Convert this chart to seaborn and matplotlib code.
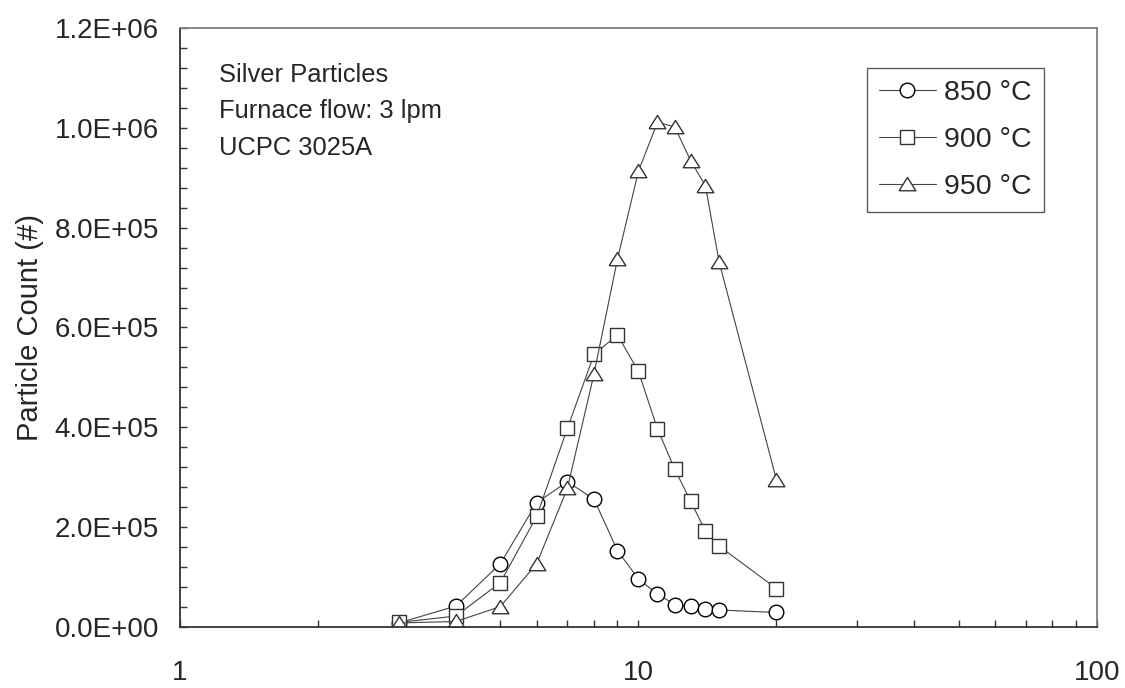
import numpy as np
import pandas as pd
import matplotlib
matplotlib.use("Agg")
import matplotlib.pyplot as plt
from matplotlib.ticker import FixedLocator, MultipleLocator, FuncFormatter, NullFormatter
import seaborn as sns

# Particle size (nm) and counts per furnace temperature
size_nm = [3, 4, 5, 6, 7, 8, 9, 10, 11, 12, 13, 14, 15, 20]
count_850 = [8e3, 42e3, 127e3, 249e3, 291e3, 256e3, 153e3, 96e3, 66e3, 45e3, 42e3, 37e3, 34e3, 29e3]
count_900 = [9e3, 22e3, 89e3, 222e3, 398e3, 546e3, 585e3, 512e3, 397e3, 316e3, 252e3, 192e3, 162e3, 77e3]
count_950 = [8e3, 11e3, 41e3, 127e3, 278e3, 507e3, 737e3, 913e3, 1011e3, 1002e3, 934e3, 884e3, 731e3, 295e3]

labels = ["850 °C", "900 °C", "950 °C"]
series = [count_850, count_900, count_950]

sns.set_style("ticks")
plt.rcParams["font.family"] = ["Liberation Sans", "DejaVu Sans"]

# wide, squat triangle like the original
tri = [(-1, -0.75), (1, -0.75), (0, 0.85), (-1, -0.75)]
markers = ["o", "s", tri]
sizes = [10.5, 9.5, 12]
edges = ["black", "#333333", "#333333"]

fig = plt.figure(figsize=(11.25, 6.88), dpi=100)
ax = fig.add_axes([0.16, 0.0887, 0.815, 0.8706])

for lab, vals, mk, ms, ec in zip(labels, series, markers, sizes, edges):
    df = pd.DataFrame({"size": size_nm, "count": vals})
    sns.lineplot(data=df, x="size", y="count", ax=ax, label=lab,
                 color="#444444", linewidth=0.8, marker=mk, markersize=ms,
                 markerfacecolor="white", markeredgecolor=ec, markeredgewidth=1.0)

ax.set_xscale("log")
ax.set_xlim(1, 100)
ax.set_ylim(0, 1.2e6)

ax.xaxis.set_major_locator(FixedLocator([1, 10, 100]))
ax.xaxis.set_major_formatter(FuncFormatter(lambda v, p: f"{v:g}"))
ax.xaxis.set_minor_locator(FixedLocator([2, 3, 4, 5, 6, 7, 8, 9, 20, 30, 40, 50, 60, 70, 80, 90]))
ax.xaxis.set_minor_formatter(NullFormatter())
ax.yaxis.set_major_locator(MultipleLocator(2e5))
ax.yaxis.set_minor_locator(MultipleLocator(4e4))
ax.yaxis.set_major_formatter(FuncFormatter(lambda v, p: f"{v:.1E}"))

ax.tick_params(axis="both", which="both", direction="in", length=5, width=1, color="#333333")
ax.tick_params(axis="y", which="major", labelsize=20, pad=15)
ax.tick_params(axis="x", which="major", labelsize=20, pad=24)

ax.set_xlabel("")
ax.set_ylabel("Particle Count (#)", fontsize=21, labelpad=8)

for side in ["left", "bottom"]:
    ax.spines[side].set_color("#333333")
    ax.spines[side].set_linewidth(1.3)
for side in ["top", "right"]:
    ax.spines[side].set_color("#808080")
    ax.spines[side].set_linewidth(1.3)

ax.text(0.042, 0.942, "Silver Particles\nFurnace flow: 3 lpm\nUCPC 3025A",
        transform=ax.transAxes, fontsize=18.4, va="top", ha="left", linespacing=1.66)

leg = ax.legend(loc="upper right", bbox_to_anchor=(0.942, 0.933), fontsize=20.5,
                frameon=True, fancybox=False, edgecolor="#333333",
                handlelength=2.0, handletextpad=0.3, labelspacing=0.73,
                borderpad=0.42, borderaxespad=0)
leg.get_frame().set_linewidth(1.0)

fig.savefig("out.png", dpi=100)
